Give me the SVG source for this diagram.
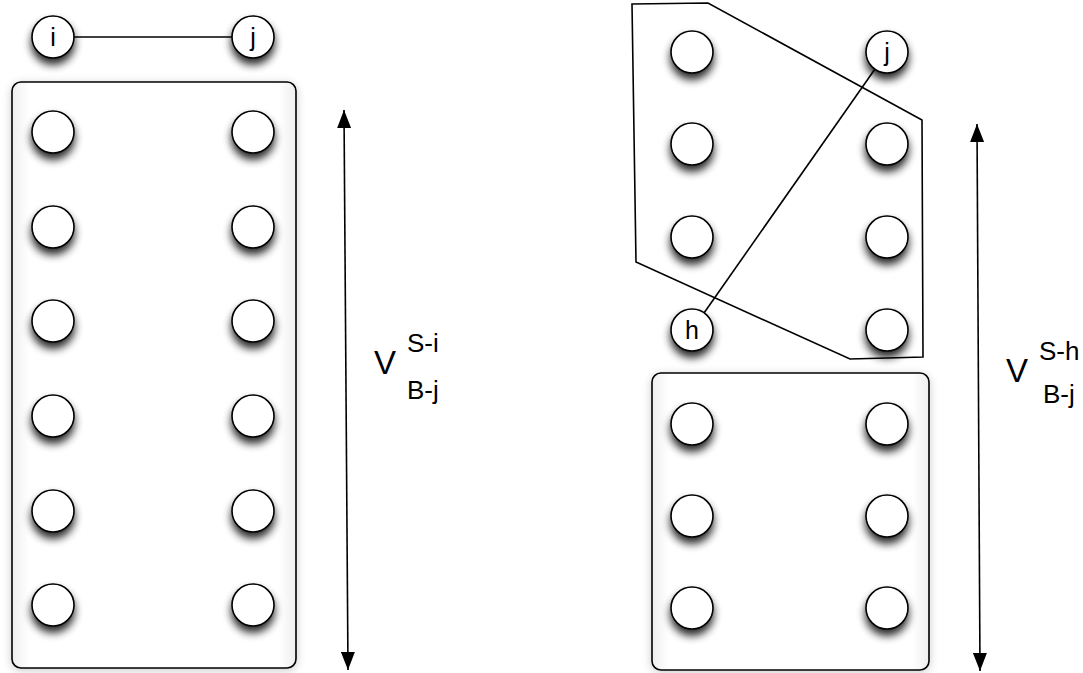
<svg xmlns="http://www.w3.org/2000/svg" width="1083" height="673" viewBox="0 0 1083 673">
<style>
.node{fill:#fff;stroke:#000;stroke-width:1.6;filter:url(#sh)}
.box{fill:#fff;stroke:#000;stroke-width:1.6;filter:url(#bsh)}
.lbl{font-family:"Liberation Sans",Arial,sans-serif;font-size:25px;text-anchor:middle;fill:#000}
.edge{stroke:#000;stroke-width:1.6;fill:none}
.math{font-family:"Liberation Sans",Arial,sans-serif;fill:#000}
</style>
<defs>
<filter id="sh" x="-60%" y="-60%" width="220%" height="250%">
<feGaussianBlur in="SourceAlpha" stdDeviation="4"/>
<feOffset dx="0" dy="6" result="b"/>
<feComponentTransfer in="b" result="s"><feFuncA type="linear" slope="0.85"/></feComponentTransfer>
<feMerge><feMergeNode in="s"/><feMergeNode in="SourceGraphic"/></feMerge>
</filter>
<filter id="bsh" x="-10%" y="-10%" width="120%" height="120%">
<feGaussianBlur in="SourceAlpha" stdDeviation="5"/>
<feOffset dx="0" dy="2" result="b"/>
<feComponentTransfer in="b" result="s"><feFuncA type="linear" slope="0.2"/></feComponentTransfer>
<feMerge><feMergeNode in="s"/><feMergeNode in="SourceGraphic"/></feMerge>
</filter>
<linearGradient id="edgeH" x1="0" y1="0" x2="1" y2="0">
<stop offset="0" stop-color="#eee"/><stop offset="0.06" stop-color="#fff"/><stop offset="0.94" stop-color="#fff"/><stop offset="1" stop-color="#eee"/>
</linearGradient>
<marker id="ah" viewBox="0 0 18 14" refX="18" refY="7" markerWidth="18" markerHeight="14" markerUnits="userSpaceOnUse" orient="auto-start-reverse">
<path d="M0,0 L18,7 L0,14 z" fill="#000"/>
</marker>
</defs>
<g id="box-left"><rect class="box" x="12" y="82" width="284" height="586" rx="9" style="fill:url(#edgeH)"/></g>
<g id="box-right"><rect class="box" x="652" y="373" width="277" height="297" rx="9" style="fill:url(#edgeH)"/></g>
<g id="connectors">
<line class="edge" x1="74" y1="37" x2="232" y2="37"/>
<line class="edge" x1="875" y1="69" x2="704" y2="313"/>
<polygon class="edge" points="632,4 708,3 922,120 923,357 850,359 636,262"/>
<line class="edge" x1="344" y1="110" x2="348" y2="670" marker-start="url(#ah)" marker-end="url(#ah)"/>
<line class="edge" x1="977" y1="124" x2="980" y2="671" marker-start="url(#ah)" marker-end="url(#ah)"/>
</g>
<g id="node-i"><circle class="node" cx="53" cy="37" r="21"/><text class="lbl" x="53" y="46">i</text></g>
<g id="node-j-left"><circle class="node" cx="253" cy="37" r="21"/><text class="lbl" x="253" y="46">j</text></g>
<g id="left-col">
<g id="l1"><circle class="node" cx="53" cy="132" r="21"/></g>
<g id="l2"><circle class="node" cx="53" cy="227" r="21"/></g>
<g id="l3"><circle class="node" cx="53" cy="321" r="21"/></g>
<g id="l4"><circle class="node" cx="53" cy="416" r="21"/></g>
<g id="l5"><circle class="node" cx="53" cy="511" r="21"/></g>
<g id="l6"><circle class="node" cx="53" cy="605" r="21"/></g>
<g id="l7"><circle class="node" cx="253" cy="132" r="21"/></g>
<g id="l8"><circle class="node" cx="253" cy="227" r="21"/></g>
<g id="l9"><circle class="node" cx="253" cy="321" r="21"/></g>
<g id="l10"><circle class="node" cx="253" cy="416" r="21"/></g>
<g id="l11"><circle class="node" cx="253" cy="511" r="21"/></g>
<g id="l12"><circle class="node" cx="253" cy="605" r="21"/></g>
</g>
<g id="right-top">
<g id="r1"><circle class="node" cx="692" cy="52" r="21"/></g>
<g id="node-j-right"><circle class="node" cx="887" cy="52" r="21"/><text class="lbl" x="887" y="61">j</text></g>
<g id="r2"><circle class="node" cx="692" cy="144" r="21"/></g>
<g id="r3"><circle class="node" cx="887" cy="144" r="21"/></g>
<g id="r4"><circle class="node" cx="692" cy="237" r="21"/></g>
<g id="r5"><circle class="node" cx="887" cy="237" r="21"/></g>
<g id="node-h"><circle class="node" cx="692" cy="330" r="21"/><text class="lbl" x="692" y="339">h</text></g>
<g id="r6"><circle class="node" cx="887" cy="330" r="21"/></g>
</g>
<g id="right-box">
<g id="b1"><circle class="node" cx="692" cy="424" r="21"/></g>
<g id="b2"><circle class="node" cx="887" cy="424" r="21"/></g>
<g id="b3"><circle class="node" cx="692" cy="516" r="21"/></g>
<g id="b4"><circle class="node" cx="887" cy="516" r="21"/></g>
<g id="b5"><circle class="node" cx="692" cy="608" r="21"/></g>
<g id="b6"><circle class="node" cx="887" cy="608" r="21"/></g>
</g>
<g id="label-left">
<text class="math" x="374" y="374" font-size="33">V</text>
<text class="math" x="407" y="352" font-size="26">S-i</text>
<text class="math" x="407" y="399" font-size="26">B-j</text>
</g>
<g id="label-right">
<text class="math" x="1006" y="382" font-size="33">V</text>
<text class="math" x="1039" y="360" font-size="26">S-h</text>
<text class="math" x="1043" y="403" font-size="26">B-j</text>
</g>
</svg>
